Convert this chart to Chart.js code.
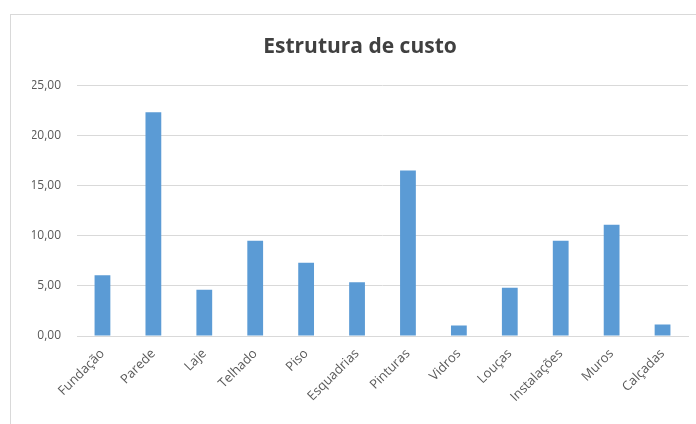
<!DOCTYPE html>
<html>
<head>
<meta charset="utf-8">
<script src="https://cdn.jsdelivr.net/npm/chart.js@4"></script>
<style>
  html, body { margin: 0; padding: 0; background: #fff; }
  #wrap { position: relative; width: 696px; height: 424px; }
</style>
</head>
<body>
<div id="wrap"><canvas id="chart" width="696" height="424"></canvas></div>
<script>
  // Cost structure per construction item
  var categories = ['Fundação', 'Parede', 'Laje', 'Telhado', 'Piso', 'Esquadrias',
                    'Pinturas', 'Vidros', 'Louças', 'Instalações', 'Muros', 'Calçadas'];
  var costs = [6.05, 22.3, 4.6, 9.5, 7.3, 5.35, 16.5, 1.05, 4.8, 9.5, 11.1, 1.15];
  var yTickLabels = ['0,00', '5,00', '10,00', '15,00', '20,00', '25,00'];

  var GRID = '#d9d9d9';
  var TXT = '#595959';
  var FONT = '"Open Sans", "DejaVu Sans", sans-serif';

  // outer chart frame (Excel style border, runs off the right/bottom edge)
  var framePlugin = {
    id: 'frame',
    beforeDraw: function (chart) {
      var ctx = chart.ctx;
      ctx.save();
      ctx.strokeStyle = GRID;
      ctx.lineWidth = 1;
      ctx.strokeRect(10.5, 14.5, 720, 500);
      ctx.restore();
    }
  };

  new Chart(document.getElementById('chart'), {
    type: 'bar',
    data: {
      labels: categories,
      datasets: [{
        label: 'Custo',
        data: costs,
        backgroundColor: '#5b9bd5',
        borderWidth: 0,
        barPercentage: 0.31,
        categoryPercentage: 1
      }]
    },
    options: {
      responsive: false,
      animation: false,
      layout: { padding: { left: 32, right: 8, top: 0, bottom: 0 } },
      plugins: {
        legend: { display: false },
        tooltip: { enabled: false },
        title: {
          display: true,
          text: 'Estrutura de custo',
          color: '#404040',
          font: { family: FONT, size: 21, weight: 'bold' },
          padding: { top: 34, bottom: 26 }
        }
      },
      scales: {
        x: {
          grid: { display: false },
          border: { display: true, color: GRID },
          ticks: {
            color: TXT,
            font: { family: FONT, size: 13 },
            minRotation: 45,
            maxRotation: 45,
            padding: 2,
            autoSkip: false
          },
          afterFit: function (scale) { scale.height = 88; }
        },
        y: {
          min: 0,
          max: 25,
          grid: { color: GRID, drawTicks: false },
          border: { display: false },
          ticks: {
            stepSize: 5,
            color: TXT,
            padding: 16,
            font: { family: FONT, size: 12 },
            callback: function (v) { return yTickLabels[Math.round(v / 5)]; }
          },
          afterFit: function (scale) { scale.width = 45; }
        }
      }
    },
    plugins: [framePlugin]
  });
</script>
</body>
</html>
